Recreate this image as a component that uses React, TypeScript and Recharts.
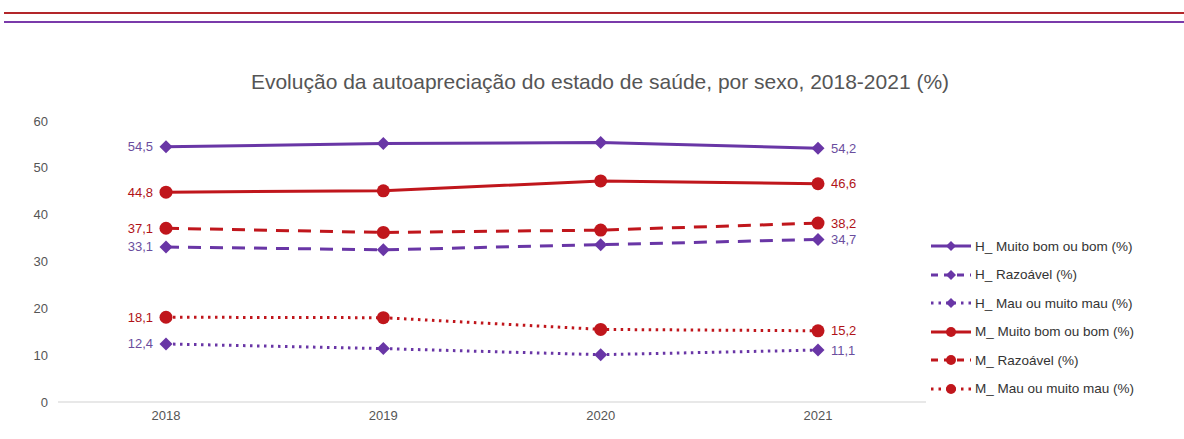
import React from 'react';
import { LineChart, Line, XAxis, YAxis, LabelList } from 'recharts';

const years = ['2018', '2019', '2020', '2021'];
const hMuitoBom = [54.5, 55.2, 55.4, 54.2];
const hRazoavel = [33.1, 32.5, 33.6, 34.7];
const hMau = [12.4, 11.4, 10.1, 11.1];
const mMuitoBom = [44.8, 45.1, 47.2, 46.6];
const mRazoavel = [37.1, 36.2, 36.7, 38.2];
const mMau = [18.1, 18.0, 15.5, 15.2];
const yTicks = [0, 10, 20, 30, 40, 50, 60];

const PURPLE = '#6936a6';
const RED = '#c0161c';
const PURPLE_TXT = '#6a4d9e';
const RED_TXT = '#b01218';
const FONT = '"Liberation Sans", Arial, Helvetica, sans-serif';

const seriesDefs = [
  { key: 'hMuitoBom', name: 'H_ Muito bom ou bom (%)', values: hMuitoBom, color: PURPLE, txt: PURPLE_TXT, dash: undefined, shape: 'diamond' },
  { key: 'hRazoavel', name: 'H_ Razoável (%)', values: hRazoavel, color: PURPLE, txt: PURPLE_TXT, dash: '13 9', shape: 'diamond' },
  { key: 'hMau', name: 'H_ Mau ou muito mau (%)', values: hMau, color: PURPLE, txt: PURPLE_TXT, dash: '2.5 4.5', shape: 'diamond' },
  { key: 'mMuitoBom', name: 'M_ Muito bom ou bom (%)', values: mMuitoBom, color: RED, txt: RED_TXT, dash: undefined, shape: 'circle' },
  { key: 'mRazoavel', name: 'M_ Razoável (%)', values: mRazoavel, color: RED, txt: RED_TXT, dash: '13 9', shape: 'circle' },
  { key: 'mMau', name: 'M_ Mau ou muito mau (%)', values: mMau, color: RED, txt: RED_TXT, dash: '2.5 4.5', shape: 'circle' },
];

const data = years.map((year, i) => {
  const row: Record<string, string | number> = { year };
  seriesDefs.forEach((s) => {
    row[s.key] = s.values[i];
  });
  return row;
});

const fmt = (v: number) => v.toFixed(1).replace('.', ',');

function makeDot(shape: string, color: string) {
  return (props: any) => {
    const { cx, cy, index } = props;
    if (cx == null || cy == null) return <g key={index} />;
    if (shape === 'diamond') {
      return (
        <path
          key={index}
          d={`M${cx},${cy - 6.5} L${cx + 6.5},${cy} L${cx},${cy + 6.5} L${cx - 6.5},${cy} Z`}
          fill={color}
        />
      );
    }
    return <circle key={index} cx={cx} cy={cy} r={6.5} fill={color} />;
  };
}

function makeLabel(color: string) {
  return (props: any) => {
    const { x, y, value, index } = props;
    if (index !== 0 && index !== years.length - 1) return null;
    const left = index === 0;
    return (
      <text
        x={left ? x - 13 : x + 13}
        y={y}
        dy={4.5}
        textAnchor={left ? 'end' : 'start'}
        fontSize={13}
        fontFamily={FONT}
        fill={color}
      >
        {fmt(value)}
      </text>
    );
  };
}

function LegendIcon({ color, dash, shape }: { color: string; dash?: string; shape: string }) {
  return (
    <svg width={42} height={14} style={{ display: 'block' }}>
      <line x1={1} y1={7} x2={41} y2={7} stroke={color} strokeWidth={3} strokeDasharray={dash === '13 9' ? '7 6' : dash ? '2.5 5' : undefined} />
      {shape === 'diamond' ? (
        <path d="M21,2 L26,7 L21,12 L16,7 Z" fill={color} />
      ) : (
        <circle cx={21} cy={7} r={5} fill={color} />
      )}
    </svg>
  );
}

function ChartLegend() {
  return (
    <div style={{ position: 'absolute', left: 930, top: 232, width: 254, fontFamily: FONT, fontSize: 13.5, color: '#333' }}>
      {seriesDefs.map((s) => (
        <div key={s.key} style={{ display: 'flex', alignItems: 'center', height: 28.5 }}>
          <LegendIcon color={s.color} dash={s.dash} shape={s.shape} />
          <span style={{ marginLeft: 3 }}>{s.name}</span>
        </div>
      ))}
    </div>
  );
}

export default function App() {
  return (
    <div style={{ position: 'absolute', left: 0, top: 0, width: 1184, height: 439, background: '#fff', overflow: 'hidden' }}>
      <div style={{ position: 'absolute', left: 4, right: 0, top: 12, height: 1.5, background: '#b3262a' }} />
      <div style={{ position: 'absolute', left: 4, right: 0, top: 21, height: 1.5, background: '#7a3aaa' }} />
      <div
        style={{
          position: 'absolute',
          left: 0,
          width: 1184,
          top: 70,
          textAlign: 'center',
          fontFamily: FONT,
          fontSize: 21,
          color: '#555',
          paddingLeft: 8,
        }}
      >
        Evolução da autoapreciação do estado de saúde, por sexo, 2018-2021 (%)
      </div>
      <LineChart width={1184} height={439} data={data} margin={{ top: 121, right: 258, bottom: 7, left: 8 }}>
        <XAxis
          dataKey="year"
          tickLine={false}
          axisLine={{ stroke: '#e0e0e0', strokeWidth: 1.5 }}
          tick={{ fontSize: 13, fill: '#555', fontFamily: FONT }}
          tickMargin={3}
          height={30}
          padding={{ left: 108, right: 108 }}
        />
        <YAxis
          domain={[0, 60]}
          ticks={yTicks}
          axisLine={false}
          tickLine={false}
          width={50}
          tick={{ fontSize: 13, fill: '#555', fontFamily: FONT, dx: -2 }}
        />
        {seriesDefs.map((s) => (
          <Line
            key={s.key}
            type="linear"
            dataKey={s.key}
            name={s.name}
            stroke={s.color}
            strokeWidth={3}
            strokeDasharray={s.dash}
            dot={makeDot(s.shape, s.color)}
            activeDot={false}
            isAnimationActive={false}
          >
            <LabelList dataKey={s.key} content={makeLabel(s.txt)} />
          </Line>
        ))}
      </LineChart>
      <ChartLegend />
    </div>
  );
}
